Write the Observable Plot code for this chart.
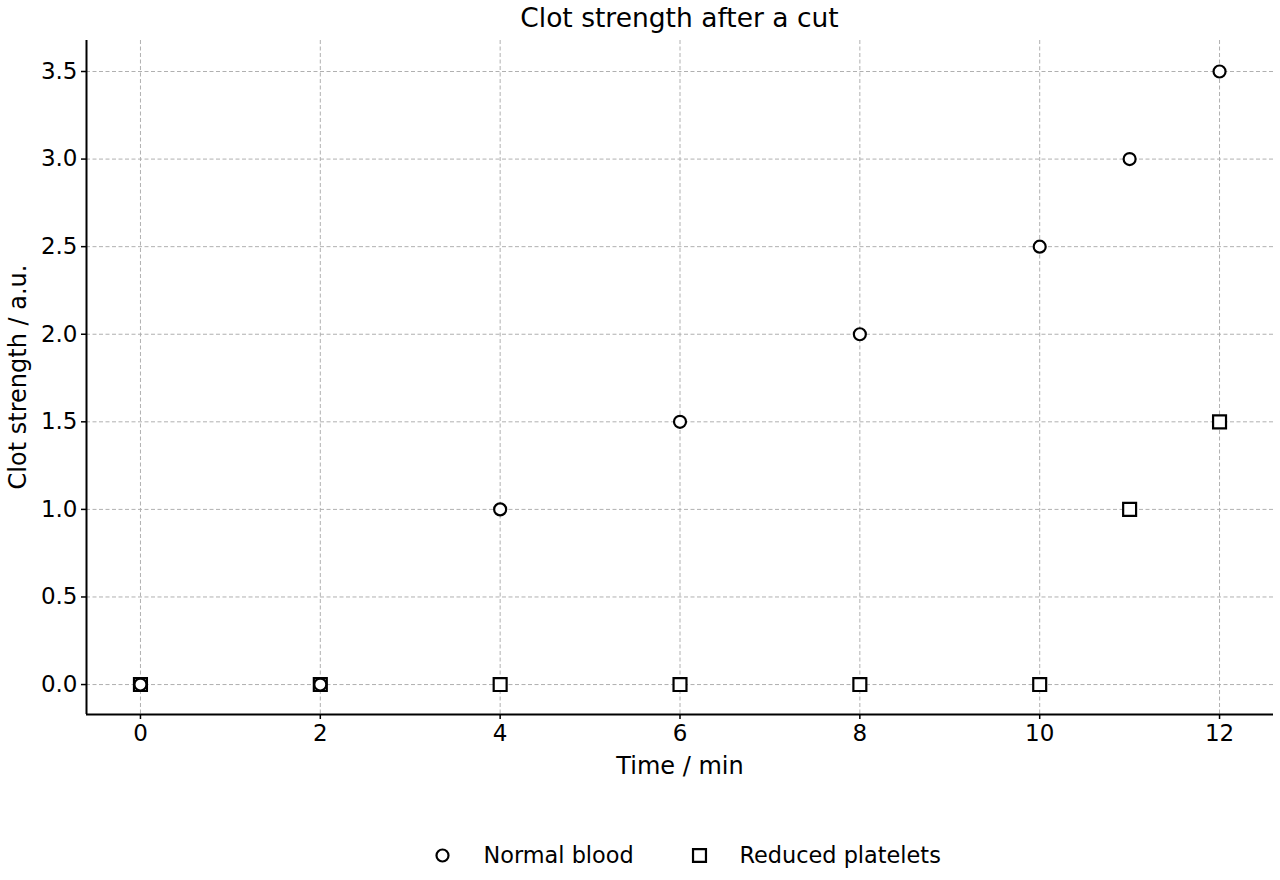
<!DOCTYPE html>
<html>
<head>
<meta charset="utf-8">
<script src="https://cdn.jsdelivr.net/npm/d3@7"></script>
<script src="https://cdn.jsdelivr.net/npm/@observablehq/plot@0.6"></script>
<style>
  html, body { margin: 0; padding: 0; background: #fff; }
  #wrap { position: relative; width: 1280px; height: 880px; font-family: "DejaVu Sans", sans-serif; color: #000; overflow: hidden; }
  #title { position: absolute; left: 86px; width: 1187px; top: 2px; text-align: center; font-size: 26.5px; line-height: 32px; }
  #chart { position: absolute; left: 0; top: 0; }
  #legend { position: absolute; left: 0; width: 1280px; top: 840px; height: 30px; }
  .ylab { position: absolute; font-size: 24px; white-space: nowrap; transform: translate(-50%, -50%) rotate(-90deg); left: 18px; top: 377px; }
  .xlab { position: absolute; font-size: 24px; white-space: nowrap; transform: translate(-50%, -50%); left: 680px; top: 766px; }
</style>
</head>
<body>
<div id="wrap">
  <div id="chart"></div>
  <div id="title">Clot strength after a cut</div>
  <div class="xlab">Time / min</div>
  <div class="ylab">Clot strength / a.u.</div>
  <div id="legend"></div>
</div>
<script>
// Sampling times (minutes)
const times = [0, 2, 4, 6, 8, 10, 11, 12];
// Clot strength readings (arbitrary units)
const normalBlood = [0, 0, 1.0, 1.5, 2.0, 2.5, 3.0, 3.5];
const reducedPlatelets = [0, 0, 0, 0, 0, 0, 1.0, 1.5];
const seriesNames = ["Normal blood", "Reduced platelets"];

// Axis ticks
const xTicks = [0, 2, 4, 6, 8, 10, 12];
const yTicks = [0, 0.5, 1.0, 1.5, 2.0, 2.5, 3.0, 3.5];
const xDomain = [-0.6, 12.6];
const yDomain = [-0.171, 3.677];

const normalRows = times.map((t, i) => ({t, v: normalBlood[i]}));
const reducedRows = times.map((t, i) => ({t, v: reducedPlatelets[i]}));

const gridStyle = {stroke: "#b0b0b0", strokeOpacity: 1, strokeWidth: 1, strokeDasharray: "4,2.5"};
const circleR = 6;
const squareR = 7.3;

const chart = Plot.plot({
  width: 1280,
  height: 800,
  marginLeft: 86,
  marginRight: 7,
  marginTop: 40,
  marginBottom: 86,
  style: {fontFamily: "DejaVu Sans, sans-serif", fontSize: "23px", color: "#000", background: "#fff"},
  x: {domain: xDomain},
  y: {domain: yDomain},
  marks: [
    Plot.gridX(xTicks, gridStyle),
    Plot.gridY(yTicks, gridStyle),
    Plot.axisX(xTicks, {tickSize: 5, tickPadding: 5, fontSize: 23, label: null, stroke: "#000", strokeWidth: 1.5, tickFormat: d => String(d)}),
    Plot.axisY(yTicks, {tickSize: 5, tickPadding: 4, fontSize: 23, label: null, stroke: "#000", strokeWidth: 1.5, tickFormat: d3.format(".1f")}),
    Plot.ruleX([xDomain[0]], {stroke: "#000", strokeWidth: 2}),
    Plot.ruleY([yDomain[0]], {stroke: "#000", strokeWidth: 2}),
    Plot.dot(reducedRows, {x: "t", y: "v", symbol: "square", r: squareR, stroke: "#000", strokeWidth: 2.2, fill: "#fff"}),
    Plot.dot(normalRows, {x: "t", y: "v", symbol: "circle", r: circleR, stroke: "#000", strokeWidth: 2.2, fill: "#fff"})
  ]
});
document.getElementById("chart").appendChild(chart);

// Legend drawn beneath the plot
const legend = Plot.plot({
  width: 1280,
  height: 30,
  margin: 0,
  x: {domain: [0, 1280], axis: null},
  y: {domain: [0, 30], axis: null},
  r: {type: "identity"},
  symbol: {type: "identity"},
  style: {fontFamily: "DejaVu Sans, sans-serif", fontSize: "22.4px", background: "transparent"},
  marks: [
    Plot.dot([{x: 442, s: "circle", r: circleR}, {x: 699, s: "square", r: squareR}], {x: "x", y: 15, symbol: "s", r: "r", stroke: "#000", strokeWidth: 2.2, fill: "#fff"}),
    Plot.text([{x: 483, label: seriesNames[0]}, {x: 739, label: seriesNames[1]}], {x: "x", y: 15, text: "label", textAnchor: "start", fill: "#000", fontSize: 22.4})
  ]
});
document.getElementById("legend").appendChild(legend);
</script>
</body>
</html>
